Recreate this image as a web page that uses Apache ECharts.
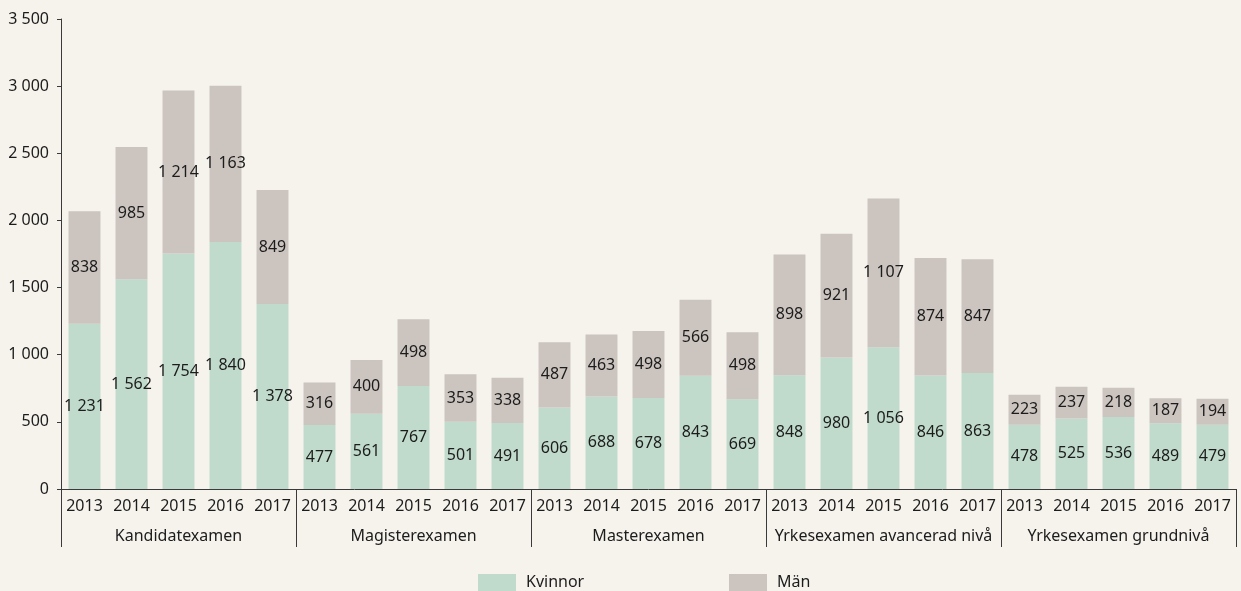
<!DOCTYPE html>
<html>
<head>
<meta charset="utf-8">
<script src="https://cdn.jsdelivr.net/npm/echarts@6/dist/echarts.min.js"></script>
<style>
  html, body { margin: 0; padding: 0; background: #f6f3ed; }
  #chart { width: 1241px; height: 591px; }
</style>
</head>
<body>
<div id="chart"></div>
<script>
// Examina per examenstyp och år, uppdelat på kön
const groups = ['Kandidatexamen', 'Magisterexamen', 'Masterexamen', 'Yrkesexamen avancerad nivå', 'Yrkesexamen grundnivå'];
const years = ['2013', '2014', '2015', '2016', '2017'];

const kvinnor = [
  1231, 1562, 1754, 1840, 1378,
  477, 561, 767, 501, 491,
  606, 688, 678, 843, 669,
  848, 980, 1056, 846, 863,
  478, 525, 536, 489, 479
];
const man = [
  838, 985, 1214, 1163, 849,
  316, 400, 498, 353, 338,
  487, 463, 498, 566, 498,
  898, 921, 1107, 874, 847,
  223, 237, 218, 187, 194
];

const yTicks = { min: 0, max: 3500, interval: 500 };

// one category per (examenstyp, år)
const categories = [];
groups.forEach(() => years.forEach(y => categories.push(y)));

const fmt = v => String(v).replace(/\B(?=(\d{3})+(?!\d))/g, ' ');
const FONT = '"Noto Sans", sans-serif';
const TEXT = '#1c1c1c';
const AXIS = '#3a3a3a';

const chart = echarts.init(document.getElementById('chart'));

const labelStyle = {
  show: true,
  position: 'inside',
  color: TEXT,
  fontFamily: FONT,
  fontSize: 16,
  formatter: p => fmt(p.value)
};

const legendBase = {
  top: 574,
  padding: 0,
  itemWidth: 38, itemHeight: 17, icon: 'rect',
  textStyle: { color: TEXT, fontSize: 16, fontFamily: FONT, padding: [0, 0, 0, 5] }
};

chart.setOption({
  backgroundColor: '#f6f3ed',
  animation: false,
  textStyle: { fontFamily: FONT },
  grid: { left: 61, right: 5, top: 19, bottom: 102, containLabel: false },
  legend: [
    Object.assign({ data: ['Kvinnor'], left: 478 }, legendBase),
    Object.assign({ data: ['Män'], left: 729 }, legendBase)
  ],
  xAxis: [
    {
      type: 'category',
      data: categories,
      position: 'bottom',
      axisLine: { show: true, lineStyle: { color: AXIS, width: 1 } },
      axisTick: { show: false },
      axisLabel: { color: TEXT, fontSize: 16, fontFamily: FONT, margin: 9, interval: 0 }
    },
    {
      type: 'category',
      data: groups,
      position: 'bottom',
      axisLine: { show: false },
      axisTick: { show: true, length: 58, interval: 0, lineStyle: { color: AXIS, width: 1 } },
      axisLabel: { color: TEXT, fontSize: 16, fontFamily: FONT, margin: 39, interval: 0 }
    }
  ],
  yAxis: {
    type: 'value',
    min: yTicks.min,
    max: yTicks.max,
    interval: yTicks.interval,
    axisLine: { show: true, lineStyle: { color: AXIS, width: 1 } },
    axisTick: { show: true, length: 4, lineStyle: { color: AXIS } },
    splitLine: { show: false },
    axisLabel: { color: TEXT, fontSize: 16, fontFamily: FONT, margin: 12, formatter: v => fmt(v) }
  },
  series: [
    {
      name: 'Kvinnor',
      type: 'bar',
      stack: 'total',
      xAxisIndex: 0,
      barWidth: '68%',
      itemStyle: { color: '#c0dbcc' },
      label: labelStyle,
      data: kvinnor
    },
    {
      name: 'Män',
      type: 'bar',
      stack: 'total',
      xAxisIndex: 0,
      barWidth: '68%',
      itemStyle: { color: '#cbc4bf' },
      label: labelStyle,
      data: man
    }
  ]
});
</script>
</body>
</html>
